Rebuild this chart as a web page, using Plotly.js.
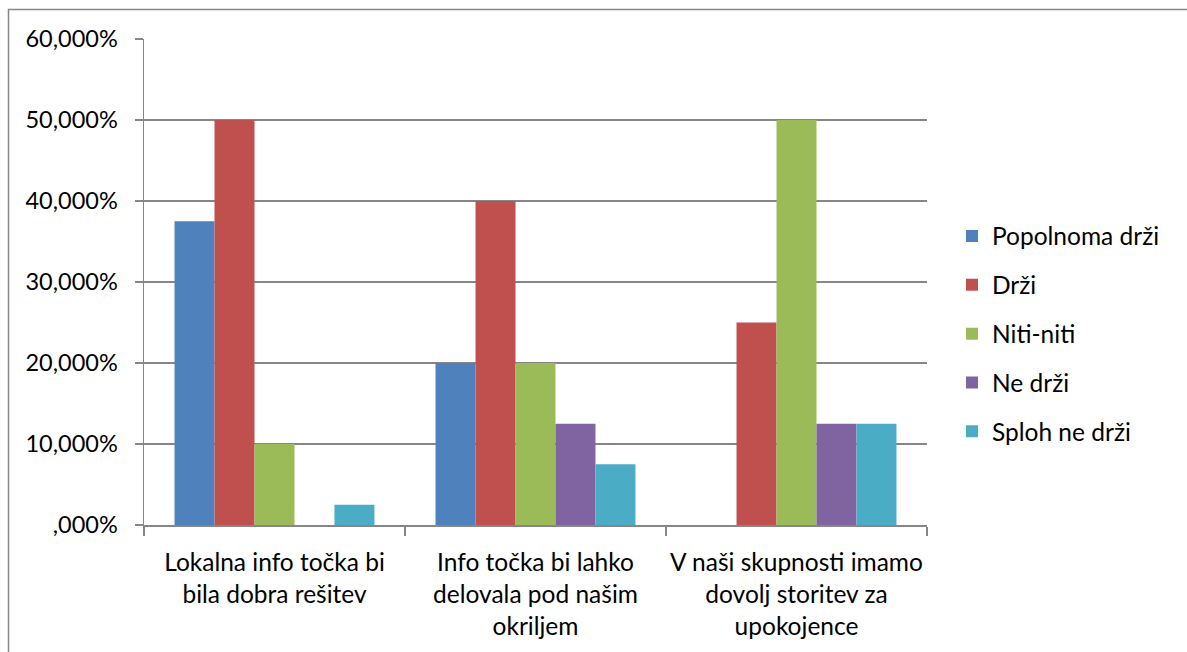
<!DOCTYPE html>
<html>
<head>
<meta charset="utf-8">
<script src="https://cdn.plot.ly/plotly-3.0.1.min.js"></script>
<style>
html,body{margin:0;padding:0;background:#fff;}
#chart{width:1187px;height:652px;}
</style>
</head>
<body>
<div id="chart"></div>
<script>
const categories = [
  "Lokalna info točka bi<br>bila dobra rešitev",
  "Info točka bi lahko<br>delovala pod našim<br>okriljem",
  "V naši skupnosti imamo<br>dovolj storitev za<br>upokojence"
];
const seriesNames = ["Popolnoma drži", "Drži", "Niti-niti", "Ne drži", "Sploh ne drži"];
const popolnomaDrzi = [0.375, 0.20, 0.0];
const drzi = [0.50, 0.40, 0.25];
const nitiNiti = [0.10, 0.20, 0.50];
const neDrzi = [0.0, 0.125, 0.125];
const splohNeDrzi = [0.025, 0.075, 0.125];
const yTickVals = [0, 0.1, 0.2, 0.3, 0.4, 0.5, 0.6];
const yTickText = [",000%", "10,000%", "20,000%", "30,000%", "40,000%", "50,000%", "60,000%"];

const colors = ["#4F81BD", "#C0504D", "#9BBB59", "#8064A2", "#4BACC6"];
const seriesValues = [popolnomaDrzi, drzi, nitiNiti, neDrzi, splohNeDrzi];

const W = 1187, H = 652;
const L = 144, R = 260, T = 39, B = 127;
const pw = W - L - R, ph = H - T - B;
const px = v => (v - L) / pw;
const py = v => (H - B - v) / ph;

const traces = seriesNames.map((name, i) => ({
  type: "bar",
  name: name,
  x: categories,
  y: seriesValues[i],
  marker: {color: colors[i]},
  legendgroup: "g" + i,
  hoverinfo: "skip"
}));

const fam = "Lato, 'Noto Sans', sans-serif";

const layout = {
  width: W, height: H,
  margin: {l: L, r: R, t: T, b: B, pad: 0},
  paper_bgcolor: "#fff",
  plot_bgcolor: "#fff",
  font: {family: fam, size: 23, color: "#000"},
  barmode: "group",
  bargap: 0.234,
  bargroupgap: 0,
  showlegend: true,
  legend: {
    x: px(952), y: py(334), xanchor: "left", yanchor: "middle",
    font: {family: fam, size: 24.5, color: "#000"},
    tracegroupgap: 14,
    bgcolor: "rgba(0,0,0,0)"
  },
  xaxis: {
    type: "category",
    showline: true, linecolor: "#868686", linewidth: 1.5,
    ticks: "outside", ticklen: 9, tickcolor: "#868686", tickwidth: 1.5,
    tickson: "boundaries",
    tickangle: 0,
    showgrid: false,
    tickfont: {family: fam, size: 24.5, color: "#000"},
    ticklabelstandoff: 15,
    automargin: false
  },
  yaxis: {
    range: [0, 0.6],
    tickvals: yTickVals, ticktext: yTickText,
    showline: true, linecolor: "#868686", linewidth: 1.5,
    ticks: "outside", ticklen: 8, tickcolor: "#868686", tickwidth: 1.5,
    showgrid: true, gridcolor: "#868686", gridwidth: 1.2,
    zeroline: false,
    tickfont: {family: fam, size: 23.5, color: "#000"},
    ticklabelstandoff: 12,
    automargin: false
  },
  shapes: [{
    type: "path", xref: "paper", yref: "paper",
    path: "M" + px(8.5) + "," + py(H + 5) + " L" + px(8.5) + "," + py(9.5) + " L" + px(W + 5) + "," + py(9.5),
    line: {color: "#878787", width: 1.5}
  }]
};

Plotly.newPlot("chart", traces, layout, {staticPlot: true, displayModeBar: false});
</script>
</body>
</html>
